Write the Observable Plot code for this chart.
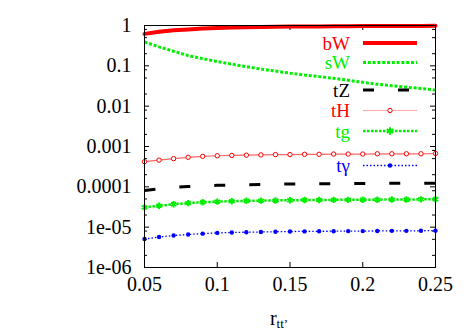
<!DOCTYPE html>
<html>
<head>
<meta charset="utf-8">
<script src="https://cdn.jsdelivr.net/npm/d3@7"></script>
<script src="https://cdn.jsdelivr.net/npm/@observablehq/plot@0.6"></script>
<style>
  html, body { margin: 0; padding: 0; background: #fff; overflow: hidden; }
  #chart { position: relative; width: 471px; height: 330px; }
  #chart svg, #chart svg text { font-family: "Liberation Serif", "Times New Roman", Times, "DejaVu Serif", serif !important; }
</style>
</head>
<body>
<div id="chart"></div>
<script>
// ---- data ----
const xVals = [0.05, 0.06, 0.07, 0.08, 0.09, 0.10, 0.11, 0.12, 0.13, 0.14, 0.15,
               0.16, 0.17, 0.18, 0.19, 0.20, 0.21, 0.22, 0.23, 0.24, 0.25];
const bW = [0.62, 0.70, 0.76, 0.80, 0.84, 0.87, 0.89, 0.91, 0.92, 0.93, 0.94,
            0.945, 0.95, 0.955, 0.96, 0.965, 0.97, 0.97, 0.975, 0.975, 0.98];
const sW = [0.39, 0.295, 0.23, 0.18, 0.15, 0.128, 0.11, 0.095, 0.083, 0.074, 0.066,
            0.059, 0.054, 0.049, 0.044, 0.039, 0.035, 0.032, 0.0295, 0.0275, 0.025];
const tZ = [8.1e-5, 9.0e-5, 9.7e-5, 1.02e-4, 1.06e-4, 1.09e-4, 1.11e-4, 1.13e-4, 1.15e-4, 1.16e-4, 1.18e-4,
            1.19e-4, 1.2e-4, 1.2e-4, 1.21e-4, 1.21e-4, 1.22e-4, 1.22e-4, 1.23e-4, 1.23e-4, 1.23e-4];
const tH = [4.2e-4, 4.6e-4, 5.0e-4, 5.4e-4, 5.7e-4, 5.9e-4, 6.0e-4, 6.1e-4, 6.2e-4, 6.3e-4, 6.3e-4,
            6.4e-4, 6.4e-4, 6.5e-4, 6.5e-4, 6.5e-4, 6.6e-4, 6.6e-4, 6.6e-4, 6.6e-4, 6.7e-4];
const tg = [3.1e-5, 3.4e-5, 3.7e-5, 3.95e-5, 4.15e-5, 4.3e-5, 4.4e-5, 4.5e-5, 4.55e-5, 4.6e-5, 4.65e-5,
            4.7e-5, 4.7e-5, 4.75e-5, 4.75e-5, 4.8e-5, 4.8e-5, 4.85e-5, 4.85e-5, 4.9e-5, 4.9e-5];
const tgamma = [5.1e-6, 5.7e-6, 6.2e-6, 6.6e-6, 6.9e-6, 7.2e-6, 7.4e-6, 7.5e-6, 7.6e-6, 7.7e-6, 7.8e-6,
                7.85e-6, 7.9e-6, 7.95e-6, 8.0e-6, 8.0e-6, 8.05e-6, 8.1e-6, 8.1e-6, 8.15e-6, 8.2e-6];

const seriesNames = ["bW", "sW", "tZ", "tH", "tg", "tγ"];
const xTicks = [0.05, 0.1, 0.15, 0.2, 0.25];
const xTickLabels = ["0.05", "0.1", "0.15", "0.2", "0.25"];
const yTicks = [1, 0.1, 0.01, 0.001, 0.0001, 1e-5, 1e-6];
const yTickLabels = ["1", "0.1", "0.01", "0.001", "0.0001", "1e-05", "1e-06"];
const yMinorTicks = [2e-6, 5e-6, 8e-6, 2e-5, 5e-5, 8e-5, 2e-4, 5e-4, 8e-4,
                     2e-3, 5e-3, 8e-3, 2e-2, 5e-2, 8e-2, 0.2, 0.5, 0.8];

// ---- build ----
const FONT = '"Liberation Serif", "Times New Roman", Times, "DejaVu Serif", serif';
const rows = (ys) => xVals.map((x, i) => ({x, y: ys[i]}));
const W = 471, H = 330, mL = 144, mR = 36, mT = 25, mB = 63;
const fw = W - mL - mR, fh = H - mT - mB;
const yLab = new Map(yTicks.map((t, i) => [t, yTickLabels[i]]));
const xLab = new Map(xTicks.map((t, i) => [t, xTickLabels[i]]));

const RED = "#ff0000", GREEN = "#00ee00", BLUE = "#0000ff";
const butt = {strokeLinecap: "butt", strokeLinejoin: "miter"};

const plot = Plot.plot({
  width: W, height: H,
  marginLeft: mL, marginRight: mR, marginTop: mT, marginBottom: mB,
  style: {fontFamily: FONT, fontSize: "20px", background: "white"},
  x: {domain: [0.05, 0.25]},
  y: {type: "log", domain: [1e-6, 1]},
  marks: [
    // inward ticks
    Plot.tickY(yTicks, {y: d => d, insetRight: fw - 5, stroke: "black"}),
    Plot.tickY(yTicks, {y: d => d, insetLeft: fw - 5, stroke: "black"}),
    Plot.tickY(yMinorTicks, {y: d => d, insetRight: fw - 3, stroke: "black"}),
    Plot.tickY(yMinorTicks, {y: d => d, insetLeft: fw - 3, stroke: "black"}),
    Plot.tickX(xTicks, {x: d => d, insetTop: fh - 5, stroke: "black"}),
    Plot.tickX(xTicks, {x: d => d, insetBottom: fh - 5, stroke: "black"}),
    Plot.axisY(yTicks, {tickSize: 0, tickPadding: 13, tickFormat: d => yLab.get(d), fontSize: 20, fill: "black", label: null}),
    Plot.axisX(xTicks, {tickSize: 0, tickPadding: 9, tickFormat: d => xLab.get(d), fontSize: 20, fill: "black", label: null}),
    // series
    Plot.line(rows(tgamma), {x: "x", y: "y", stroke: BLUE, strokeWidth: 1.3, strokeDasharray: "1.5,2", ...butt}),
    Plot.dot(rows(tgamma), {x: "x", y: "y", fill: BLUE, r: 2.2}),
    Plot.line(rows(tg), {x: "x", y: "y", stroke: GREEN, strokeWidth: 2.5, strokeDasharray: "2.5,1.5", ...butt}),
    Plot.dot(rows(tg), {x: "x", y: "y", symbol: "asterisk", stroke: GREEN, strokeWidth: 2, r: 3}),
    Plot.line(rows(tZ), {x: "x", y: "y", stroke: "black", strokeWidth: 3, strokeDasharray: "11,24", ...butt}),
    Plot.line(rows(tH), {x: "x", y: "y", stroke: RED, strokeWidth: 1.2, strokeOpacity: 0.6}),
    Plot.dot(rows(tH), {x: "x", y: "y", stroke: RED, fill: "white", strokeWidth: 1, r: 2.2}),
    Plot.line(rows(sW), {x: "x", y: "y", stroke: GREEN, strokeWidth: 3, strokeDasharray: "3,1.8", ...butt}),
    Plot.line(rows(bW), {x: "x", y: "y", stroke: RED, strokeWidth: 4}),
    Plot.frame({stroke: "black", strokeWidth: 1})
  ]
});
document.getElementById("chart").appendChild(plot);

// ---- legend (drawn into the plot svg) ----
const svg = d3.select(plot);
const leg = svg.append("g").attr("font-family", FONT).attr("font-size", 19);
const legendRows = [
  {name: seriesNames[0], cy: 43, color: RED, sw: 4, dash: null, marker: null},
  {name: seriesNames[1], cy: 62.5, color: GREEN, sw: 3, dash: "3,1.8", marker: null},
  {name: seriesNames[2], cy: 90, color: "black", sw: 3, dash: "11,24", marker: null, textColor: "black"},
  {name: seriesNames[3], cy: 110.5, color: RED, sw: 1.2, dash: null, marker: "open", opacity: 0.35},
  {name: seriesNames[4], cy: 131, color: GREEN, sw: 2.5, dash: "2.5,1.5", marker: "star"},
  {name: seriesNames[5], cy: 165.5, color: BLUE, sw: 1.3, dash: "1.5,2", marker: "dot"}
];
const tx = 350, lx1 = 363, lx2 = 417, mx = 390;
for (const r of legendRows) {
  leg.append("text").attr("x", tx).attr("y", r.cy + 6.5).attr("text-anchor", "end")
    .attr("fill", r.textColor || r.color).text(r.name);
  leg.append("line").attr("x1", lx1).attr("x2", lx2).attr("y1", r.cy).attr("y2", r.cy)
    .attr("stroke", r.color).attr("stroke-width", r.sw).attr("stroke-linecap", "butt")
    .attr("stroke-dasharray", r.dash).attr("stroke-opacity", r.opacity || 1);
  if (r.marker === "open") {
    leg.append("circle").attr("cx", mx).attr("cy", r.cy).attr("r", 2.2)
      .attr("fill", "white").attr("stroke", r.color);
  } else if (r.marker === "dot") {
    leg.append("circle").attr("cx", mx).attr("cy", r.cy).attr("r", 2.2).attr("fill", r.color);
  } else if (r.marker === "star") {
    leg.append("path").attr("transform", `translate(${mx},${r.cy})`)
      .attr("d", d3.symbol(d3.symbolAsterisk, 40)())
      .attr("stroke", r.color).attr("stroke-width", 2).attr("fill", "none");
  }
}

// ---- x axis title with subscript ----
const xt = svg.append("text").attr("x", 279).attr("y", 325)
  .attr("font-family", FONT).attr("font-size", 20).attr("fill", "black");
xt.append("tspan").text("r");
xt.append("tspan").attr("dy", 3).attr("font-size", 13).text("tt’");
</script>
</body>
</html>
